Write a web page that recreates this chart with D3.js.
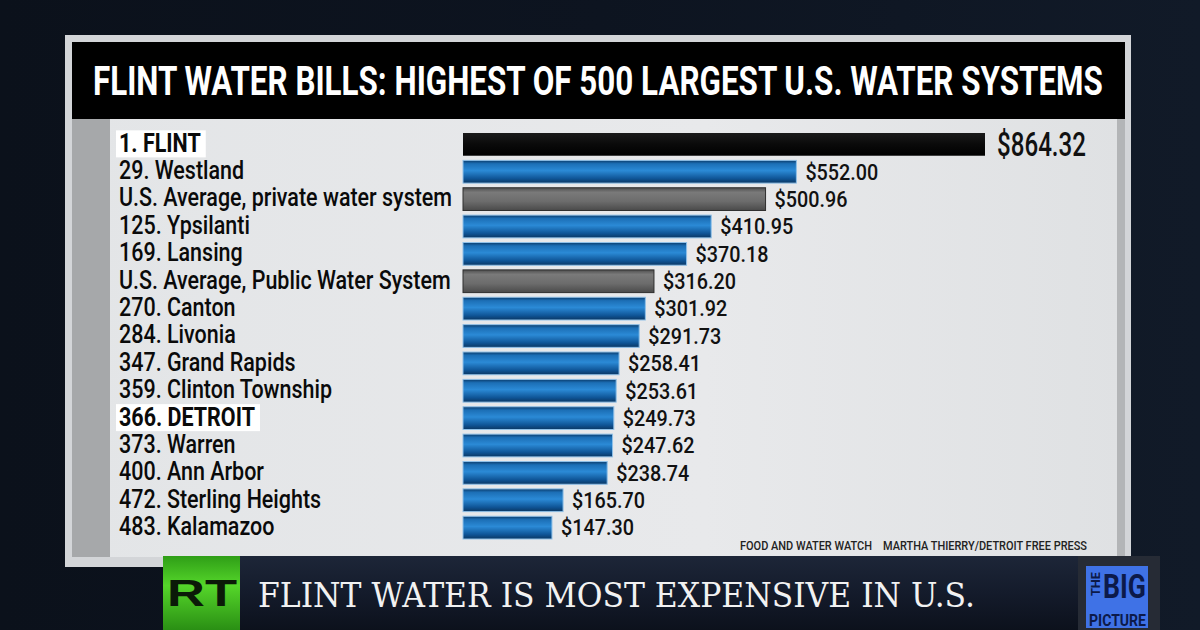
<!DOCTYPE html>
<html><head><meta charset="utf-8">
<script src="https://cdn.jsdelivr.net/npm/d3@7"></script>
<style>body{margin:0;background:#0a0f18;}svg{display:block}</style>
</head><body>
<svg id="c" width="1200" height="630"></svg>
<script>
const categories = ["1. FLINT","29. Westland","U.S. Average, private water system","125. Ypsilanti","169. Lansing","U.S. Average, Public Water System","270. Canton","284. Livonia","347. Grand Rapids","359. Clinton Township","366. DETROIT","373. Warren","400. Ann Arbor","472. Sterling Heights","483. Kalamazoo"];
const values = [864.32,552.00,500.96,410.95,370.18,316.20,301.92,291.73,258.41,253.61,249.73,247.62,238.74,165.70,147.30];
const valueLabels = ["$864.32","$552.00","$500.96","$410.95","$370.18","$316.20","$301.92","$291.73","$258.41","$253.61","$249.73","$247.62","$238.74","$165.70","$147.30"];
const barKinds = ["flint","city","average","city","city","average","city","city","city","city","city","city","city","city","city"];
const highlighted = ["1. FLINT","366. DETROIT"];
const title = "FLINT WATER BILLS: HIGHEST OF 500 LARGEST U.S. WATER SYSTEMS";
const sources = ["FOOD AND WATER WATCH","MARTHA THIERRY/DETROIT FREE PRESS"];
const ticker = "FLINT WATER IS MOST EXPENSIVE IN U.S.";

const svg = d3.select("#c");
const defs = svg.append("defs");
function lin(id, stops, vertical=true){
  const g = defs.append("linearGradient").attr("id",id)
    .attr("x1",0).attr("y1",0).attr("x2",vertical?0:1).attr("y2",vertical?1:0);
  stops.forEach(s=>g.append("stop").attr("offset",s[0]).attr("stop-color",s[1]));
}
lin("bg",[[0,"#0b111b"],[0.5,"#0d1420"],[1,"#111a28"]],false);
lin("panel",[[0,"#e3e5e7"],[0.6,"#e8e9eb"],[1,"#dfe1e3"]],false);
lin("blue",[[0,"#0a3c6c"],[0.15,"#1c6fb6"],[0.45,"#2b8ad6"],[0.8,"#0f5597"],[1,"#0a3763"]]);
lin("gray",[[0,"#4e4e4e"],[0.2,"#7a7a7a"],[0.6,"#6c6c6c"],[1,"#4a4a4a"]]);
lin("flint",[[0,"#1a1a1a"],[0.5,"#0a0a0a"],[1,"#000"]]);
lin("banner",[[0,"#1d2638"],[0.5,"#141b2b"],[1,"#0c111c"]]);
lin("rt",[[0,"#2f9e17"],[0.4,"#55d62a"],[1,"#2a8f14"]]);

// background
svg.append("rect").attr("width",1200).attr("height",630).attr("fill","url(#bg)");
// frame
svg.append("rect").attr("x",65).attr("y",35).attr("width",1066).attr("height",532).attr("fill","#d3d5d8");
svg.append("rect").attr("x",72).attr("y",42).attr("width",1053).attr("height",77).attr("fill","#000");
svg.append("rect").attr("x",72).attr("y",119).attr("width",1053).attr("height",438).attr("fill","url(#panel)");
svg.append("rect").attr("x",72).attr("y",119).attr("width",38).attr("height",438).attr("fill","#a6a8aa");
svg.append("rect").attr("x",1117).attr("y",119).attr("width",8).attr("height",438).attr("fill","#b3b5b7");

// title (condensed via horizontal scale fitted to 1010px)
const tt = svg.append("text").text(title)
  .attr("font-family","Roboto").attr("font-weight",700).attr("font-size",41)
  .attr("fill","#fff");
const tw = tt.node().getComputedTextLength();
tt.attr("transform",`translate(93,95) scale(${1010/tw},1)`);

// scales
const y = d3.scaleBand().domain(categories).range([133,539]).paddingInner(0.17).paddingOuter(0);
const x = d3.scaleLinear().domain([0,864.32]).range([463,985]);
const data = categories.map((c,i)=>({c,v:values[i],lab:valueLabels[i],kind:barKinds[i]}));

// label highlights + labels
const labelFont = 25, labelK = 0.86;
const lg = svg.append("g");
data.forEach(d=>{
  const cy = y(d.c)+y.bandwidth()/2;
  const hl = highlighted.includes(d.c);
  const t = lg.append("text").text(d.c)
    .attr("font-family","Roboto").attr("font-weight",hl?700:500).attr("font-size",labelFont)
    .attr("fill","#0a0a0a")
    .attr("transform",`translate(119,${cy+0.355*labelFont-1.5}) scale(${labelK},1)`);
  if(hl){
    const w = t.node().getComputedTextLength()*labelK;
    lg.insert("rect","text").attr("x",116).attr("y",cy-14).attr("width",w+8).attr("height",27).attr("fill","#fff");
  }
});

// bars
svg.append("g").selectAll("rect").data(data).join("rect")
  .attr("x",x(0)).attr("y",d=>y(d.c)).attr("width",d=>x(d.v)-x(0)).attr("height",y.bandwidth())
  .attr("fill",d=>d.kind==="city"?"url(#blue)":d.kind==="average"?"url(#gray)":"url(#flint)")
  .attr("stroke",d=>d.kind==="city"?"#8fc0e8":d.kind==="average"?"#2e2e2e":"#000")
  .attr("stroke-width",d=>d.kind==="flint"?0:1);

// value labels
svg.append("g").selectAll("text").data(data).join("text")
  .text(d=>d.lab)
  .attr("font-family","Roboto").attr("font-weight",500)
  .attr("font-size",d=>d.kind==="flint"?34:22)
  .attr("fill","#111")
  .attr("transform",d=>{
    const cy = y(d.c)+y.bandwidth()/2;
    const fs = d.kind==="flint"?34:22;
    const k = d.kind==="flint"?0.71:0.9;
    return `translate(${x(d.v)+(d.kind==="flint"?12:9)},${cy+0.355*fs}) scale(${k},1)`;
  });

// source
svg.append("text").attr("x",740).attr("y",550).text(sources[0])
  .attr("font-family","Roboto").attr("font-weight",500).attr("font-size",13)
  .attr("fill","#222").attr("textLength",132).attr("lengthAdjust","spacingAndGlyphs");
svg.append("text").attr("x",883).attr("y",550).text(sources[1])
  .attr("font-family","Roboto").attr("font-weight",500).attr("font-size",13)
  .attr("fill","#222").attr("textLength",204).attr("lengthAdjust","spacingAndGlyphs");

// bottom banner
svg.append("rect").attr("x",240).attr("y",556).attr("width",920).attr("height",74).attr("fill","url(#banner)");
svg.append("rect").attr("x",163).attr("y",556).attr("width",77).attr("height",74).attr("fill","url(#rt)");
svg.append("text").attr("x",167).attr("y",606).text("RT")
  .attr("font-family","Liberation Sans").attr("font-weight",700).attr("font-size",36)
  .attr("fill","#0b1a08").attr("textLength",70).attr("lengthAdjust","spacingAndGlyphs");
svg.append("text").attr("x",258).attr("y",607).text(ticker)
  .attr("font-family","DejaVu Serif").attr("font-weight",400).attr("font-size",34)
  .attr("fill","#f2f2f2").attr("textLength",717).attr("lengthAdjust","spacingAndGlyphs");

// big picture logo
svg.append("rect").attr("x",1078).attr("y",556).attr("width",82).attr("height",74).attr("fill","#262b35");
svg.append("rect").attr("x",1086).attr("y",566).attr("width",62).attr("height",62).attr("fill","#3f72e6");
svg.append("text").attr("transform","translate(1100,596) rotate(-90)").text("THE")
  .attr("font-family","Roboto").attr("font-weight",700).attr("font-size",12).attr("fill","#0c1a4a")
  .attr("textLength",24).attr("lengthAdjust","spacingAndGlyphs");
svg.append("text").attr("x",1103).attr("y",598).text("BIG")
  .attr("font-family","Roboto").attr("font-weight",700).attr("font-size",33).attr("fill","#0c1a4a")
  .attr("textLength",43).attr("lengthAdjust","spacingAndGlyphs");
svg.append("text").attr("x",1089).attr("y",626).text("PICTURE")
  .attr("font-family","Roboto").attr("font-weight",700).attr("font-size",16).attr("fill","#0c1a4a")
  .attr("textLength",57).attr("lengthAdjust","spacingAndGlyphs");
</script>
</body></html>
